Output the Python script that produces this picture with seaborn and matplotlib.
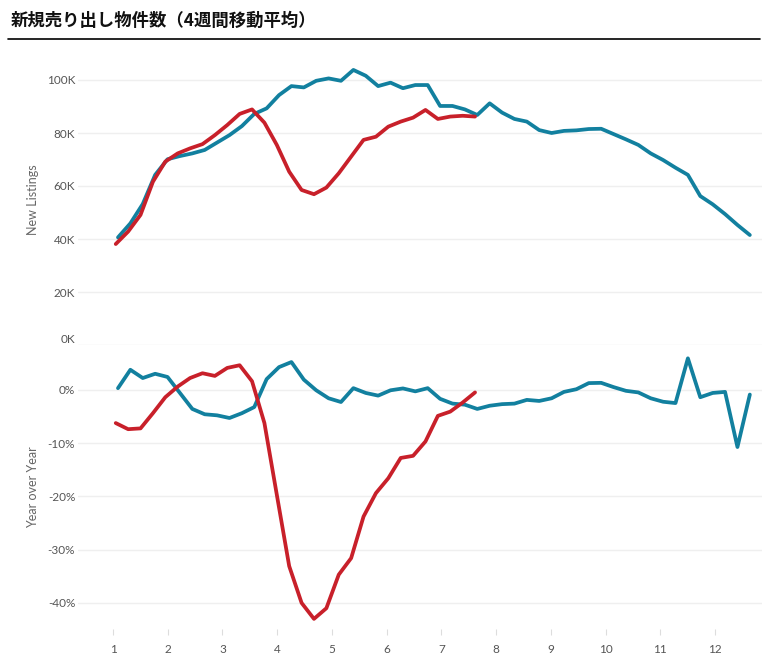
import matplotlib
matplotlib.use("Agg")
import matplotlib.pyplot as plt
from matplotlib.lines import Line2D
from matplotlib.ticker import FuncFormatter
import seaborn as sns
import pandas as pd

# ---------------- data ----------------
title = "新規売り出し物件数（4週間移動平均）"
months = list(range(1, 13))
years = ["2019", "2020"]

weeks_2019 = list(range(1, 53))
weeks_2020 = list(range(1, 31))

# New listings, thousands (4-week moving average)
listings_2019 = [40.6, 45.9, 53.2, 64.2, 70.1, 71.3, 72.3, 73.6, 76.4, 79.2,
                 82.6, 87.2, 89.3, 94.3, 97.7, 97.2, 99.7, 100.6, 99.7, 103.8,
                 101.6, 97.7, 99.0, 96.9, 98.1, 98.1, 90.2, 90.2, 88.9, 86.8,
                 91.2, 87.7, 85.3, 84.3, 81.1, 80.0, 80.8, 81.0, 81.5, 81.6,
                 79.6, 77.6, 75.5, 72.3, 69.8, 66.9, 64.2, 56.2, 53.1, 49.4,
                 45.3, 41.5]
listings_2020 = [38.1, 42.8, 49.1, 61.6, 69.2, 72.3, 74.2, 75.8, 79.2, 83.0,
                 87.2, 88.9, 83.9, 75.5, 65.4, 58.5, 56.9, 59.4, 64.8, 71.1,
                 77.4, 78.6, 82.4, 84.3, 85.8, 88.7, 85.3, 86.2, 86.5, 86.2]

# Year over year change, percent
yoy_2019 = [0.3, 3.75, 2.2, 3.0, 2.4, -0.6, -3.6, -4.6, -4.8, -5.3,
            -4.4, -3.25, 2.0, 4.25, 5.2, 1.9, -0.1, -1.6, -2.3, 0.3,
            -0.6, -1.1, -0.1, 0.25, -0.3, 0.3, -1.7, -2.6, -2.8, -3.6,
            -3.0, -2.7, -2.6, -1.9, -2.1, -1.6, -0.4, 0.1, 1.25, 1.3,
            0.5, -0.2, -0.5, -1.6, -2.25, -2.5, 5.9, -1.4, -0.6, -0.4,
            -10.75, -0.9]
yoy_2020 = [-6.25, -7.4, -7.25, -4.4, -1.4, 0.6, 2.2, 3.1, 2.6, 4.1,
            4.6, 1.6, -6.25, -19.7, -33.1, -40.0, -43.0, -41.0, -34.7, -31.6,
            -23.8, -19.4, -16.6, -12.8, -12.4, -9.7, -4.9, -4.1, -2.4, -0.5]

# ---------------- styling ----------------
colors = {"2019": "#12809F", "2020": "#C8202A"}
week_offset = {"2019": 0.6, "2020": 0.78}   # where a week sits on the month axis
months_per_week = 12 / 53


def to_month(weeks, year):
    return [1 + (w - week_offset[year]) * months_per_week for w in weeks]


df = pd.concat([
    pd.DataFrame({"x": to_month(weeks_2019, "2019"), "listings": listings_2019,
                  "yoy": yoy_2019, "year": "2019"}),
    pd.DataFrame({"x": to_month(weeks_2020, "2020"), "listings": listings_2020,
                  "yoy": yoy_2020, "year": "2020"}),
], ignore_index=True)

sns.set_theme(style="white")
plt.rcParams["font.family"] = ["Lato", "Noto Sans CJK JP", "DejaVu Sans"]

W, H = 766, 669
fig = plt.figure(figsize=(W / 100, H / 100), dpi=100)

left, right = 78, 762
top1, mid, bot2 = 53.5, 345, 629
ax1 = fig.add_axes([left / W, 1 - mid / H, (right - left) / W, (mid - top1) / H])
ax2 = fig.add_axes([left / W, 1 - bot2 / H, (right - left) / W, (bot2 - mid) / H])

for ax, col in ((ax1, "listings"), (ax2, "yoy")):
    sns.lineplot(data=df, x="x", y=col, hue="year", palette=colors,
                 estimator=None, sort=False, linewidth=2.7, legend=False, ax=ax)
    for s in ax.spines.values():
        s.set_visible(False)
    ax.set_xlim(0.36, 12.86)
    ax.set_xlabel("")
    ax.grid(axis="y", color="#EFEFEF", linewidth=1.0)
    ax.set_axisbelow(True)
    ax.tick_params(axis="y", length=0, pad=2, labelsize=8.5, labelcolor="#555555")

ax1.set_ylim(0, 110)
ax1.set_yticks([0, 20, 40, 60, 80, 100])
ax1.yaxis.set_major_formatter(FuncFormatter(lambda v, p: f"{v:.0f}K"))
ax1.set_xticks([])
ax1.get_yticklabels()[0].set_va("bottom")
ax1.set_ylabel("New Listings", fontsize=9, color="#666666")
ax1.yaxis.set_label_coords((39 - left) / (right - left), 0.5)

ax2.set_ylim(-44.9, 8.4)
ax2.set_yticks([0, -10, -20, -30, -40])
ax2.yaxis.set_major_formatter(FuncFormatter(lambda v, p: f"{v:.0f}%"))
ax2.set_xticks(months)
ax2.set_xticklabels([str(m) for m in months])
ax2.tick_params(axis="x", length=4, width=0.8, color="#DDDDDD", pad=7,
                labelsize=8.5, labelcolor="#555555", bottom=True, direction="out")
ax2.set_ylabel("Year over Year", fontsize=9, color="#666666")
ax2.yaxis.set_label_coords((39 - left) / (right - left), 0.5)

fig.text(11 / W, 1 - 21 / H, title, fontsize=12.5, fontweight="bold",
         family=["Noto Sans CJK JP", "DejaVu Sans"], color="#111111",
         va="center", ha="left")
fig.add_artist(Line2D([8 / W, 760 / W], [1 - 38.5 / H] * 2,
                      color="black", linewidth=1.2))

fig.savefig("out.png", dpi=100)
